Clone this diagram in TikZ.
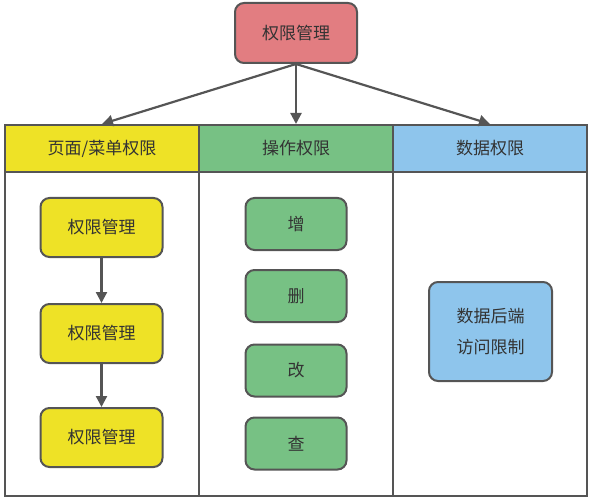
\documentclass[tikz,border=0pt]{standalone}
\usepackage{fontspec}
\setmainfont{Noto Sans CJK SC}
\usetikzlibrary{arrows.meta}
\definecolor{redf}{HTML}{E27D81}
\definecolor{yelf}{HTML}{EEE226}
\definecolor{grnf}{HTML}{77C184}
\definecolor{bluf}{HTML}{8EC5EC}
\definecolor{strk}{HTML}{555555}
\definecolor{txt}{HTML}{333333}
\tikzset{
  box/.style={draw=strk, line width=2pt, rounded corners=9pt, text=txt, font=\fontsize{17}{20}\selectfont, inner sep=0pt},
  hdr/.style={draw=strk, line width=2pt, text=txt, font=\fontsize{17}{20}\selectfont, inner sep=0pt},
  col/.style={draw=strk, line width=2pt},
  arr/.style={draw=strk, line width=2.2pt, -{Triangle[length=11pt,width=11pt]}},
}
\begin{document}
\begin{tikzpicture}[x=1pt,y=-1pt]
\useasboundingbox (0,0) rectangle (592,500);
% columns
\draw[col] (5,172) rectangle (199,496);
\draw[col] (199,172) rectangle (393,496);
\draw[col] (393,172) rectangle (587,496);
% headers
\node[hdr, fill=yelf, minimum width=194pt, minimum height=47pt] (h1) at (102,148.5) {页面/菜单权限};
\node[hdr, fill=grnf, minimum width=194pt, minimum height=47pt] (h2) at (296,148.5) {操作权限};
\node[hdr, fill=bluf, minimum width=194pt, minimum height=47pt] (h3) at (490,148.5) {数据权限};
% top
\node[box, fill=redf, minimum width=122pt, minimum height=60pt] (top) at (296,33) {权限管理};
\draw[arr] (top.south) -- (h1.north);
\draw[arr] (top.south) -- (h2.north);
\draw[arr] (top.south) -- (h3.north);
% yellow
\node[box, fill=yelf, minimum width=122pt, minimum height=59pt] (y1) at (101.5,227.5) {权限管理};
\node[box, fill=yelf, minimum width=122pt, minimum height=59pt] (y2) at (101.5,333.5) {权限管理};
\node[box, fill=yelf, minimum width=122pt, minimum height=59pt] (y3) at (101.5,437.5) {权限管理};
\draw[arr] (y1) -- (y2);
\draw[arr] (y2) -- (y3);
% green
\node[box, fill=grnf, minimum width=101pt, minimum height=52pt] (g1) at (296,224) {增};
\node[box, fill=grnf, minimum width=101pt, minimum height=52pt] (g2) at (296,296) {删};
\node[box, fill=grnf, minimum width=101pt, minimum height=52pt] (g3) at (296,370.5) {改};
\node[box, fill=grnf, minimum width=101pt, minimum height=52pt] (g4) at (296,443.5) {查};
% blue
\node[box, fill=bluf, minimum width=123pt, minimum height=99pt, align=center, font=\fontsize{17}{31}\selectfont] (b1) at (490.5,331.5) {数据后端\\访问限制};
\end{tikzpicture}
\end{document}
